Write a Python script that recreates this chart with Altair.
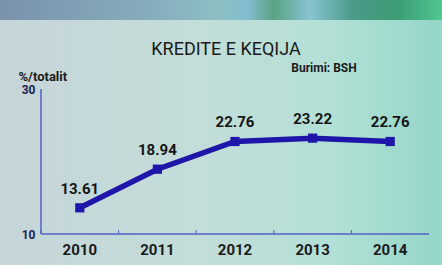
import altair as alt
import pandas as pd

years = ["2010", "2011", "2012", "2013", "2014"]
values = [13.61, 18.94, 22.76, 23.22, 22.76]
y_ticks = [10, 30]

df = pd.DataFrame({"year": years, "value": values})

FONT = "Roboto, DejaVu Sans Condensed, sans-serif"
LINE = "#1e16a8"
AXIS = "#5560c4"

W, H = 388, 145
PL, PT, PR, PB = 41, 89, 13, 31

one = alt.Data(values=[{"a": 1}])

panel_grad = alt.LinearGradient(
    gradient="linear", x1=0, x2=1, y1=0, y2=0,
    stops=[
        alt.GradientStop(color="#c6d5d9", offset=0),
        alt.GradientStop(color="#c3ddd9", offset=0.45),
        alt.GradientStop(color="#b2e0d6", offset=0.75),
        alt.GradientStop(color="#94d6c8", offset=1),
    ],
)
banner_grad = alt.LinearGradient(
    gradient="linear", x1=0, x2=1, y1=0, y2=0,
    stops=[
        alt.GradientStop(color="#7a92ac", offset=0),
        alt.GradientStop(color="#86aebc", offset=0.35),
        alt.GradientStop(color="#8cc0c4", offset=0.5),
        alt.GradientStop(color="#84bcd0", offset=0.56),
        alt.GradientStop(color="#5aa282", offset=0.62),
        alt.GradientStop(color="#88c4d2", offset=0.7),
        alt.GradientStop(color="#4a9a88", offset=0.8),
        alt.GradientStop(color="#3c9c74", offset=0.9),
        alt.GradientStop(color="#50c890", offset=1),
    ],
)

panel = alt.Chart(one).mark_rect(fill=panel_grad).encode(
    x=alt.value(-PL), x2=alt.value(W + PR), y=alt.value(-PT + 20), y2=alt.value(H + PB)
)
banner = alt.Chart(one).mark_rect(fill=banner_grad).encode(
    x=alt.value(-PL), x2=alt.value(W + PR), y=alt.value(-PT), y2=alt.value(-PT + 20)
)

title = alt.Chart(one).mark_text(
    text="KREDITE E KEQIJA", font=FONT, fontSize=18, color="#1a1a1a", baseline="middle"
).encode(x=alt.value(185), y=alt.value(-39))

source = alt.Chart(one).mark_text(
    text="Burimi: BSH", font=FONT, fontSize=12, fontWeight="bold", color="#1a1a1a", baseline="middle"
).encode(x=alt.value(283), y=alt.value(-21))

# axis lines (left and bottom edges of the plot frame)
y_line = alt.Chart(one).mark_rect(color=AXIS).encode(
    x=alt.value(-0.75), x2=alt.value(0.75), y=alt.value(0), y2=alt.value(H)
)
x_line = alt.Chart(one).mark_rect(color=AXIS).encode(
    x=alt.value(0), x2=alt.value(W), y=alt.value(H - 0.75), y2=alt.value(H + 0.75)
)

xscale = alt.Scale(domain=years, paddingInner=0, paddingOuter=0)

x_axis = alt.Axis(
    title=None,
    labelAngle=0,
    labelAlign="center",
    labelFont=FONT,
    labelFontSize=15,
    labelFontWeight="bold",
    labelColor="#1a1a1a",
    labelPadding=8,
    domain=False,
    ticks=False,
    grid=False,
    zindex=2,
)

# small ticks at the boundaries between years (shifted half a band to the left)
x_ticks = alt.Chart(df).mark_tick(
    orient="vertical", color=AXIS, thickness=1, size=4, opacity=1, xOffset=-W / 10
).encode(
    x=alt.X("year:O", sort=years, scale=xscale, axis=x_axis),
    y=alt.value(H - 2),
)

base = alt.Chart(df).encode(
    x=alt.X("year:O", sort=years, scale=xscale, axis=x_axis),
    y=alt.Y(
        "value:Q",
        scale=alt.Scale(domain=[10, 30], nice=False, zero=False),
        axis=alt.Axis(
            values=y_ticks,
            title="%/totalit",
            titleAngle=0,
            titleAlign="left",
            titleBaseline="middle",
            titleX=-23,
            titleY=-13,
            titleFont=FONT,
            titleFontSize=13,
            titleFontWeight="bold",
            titleColor="#1a1a1a",
            labelFont=FONT,
            labelFontSize=12,
            labelFontWeight="bold",
            labelColor="#1c2250",
            labelPadding=6,
            ticks=False,
            domain=False,
            grid=False,
            zindex=2,
        ),
    ),
)

line = base.mark_line(color=LINE, strokeWidth=5.5)
points = base.mark_point(shape="square", filled=True, size=85, color=LINE, opacity=1)
labels = base.mark_text(
    dy=-19, font=FONT, fontSize=15, fontWeight="bold", color="#151515", baseline="middle"
).encode(text=alt.Text("value:Q", format=".2f"))

chart = alt.layer(
    panel, banner, title, source, y_line, x_line, x_ticks, line, points, labels
).properties(
    width=W,
    height=H,
    padding={"left": PL, "top": PT, "right": PR, "bottom": PB},
    autosize=alt.AutoSizeParams(type="none"),
    background="#c4dad7",
).configure_view(stroke=None)

chart.save("out.html", embed_options={"renderer": "svg", "actions": False})
